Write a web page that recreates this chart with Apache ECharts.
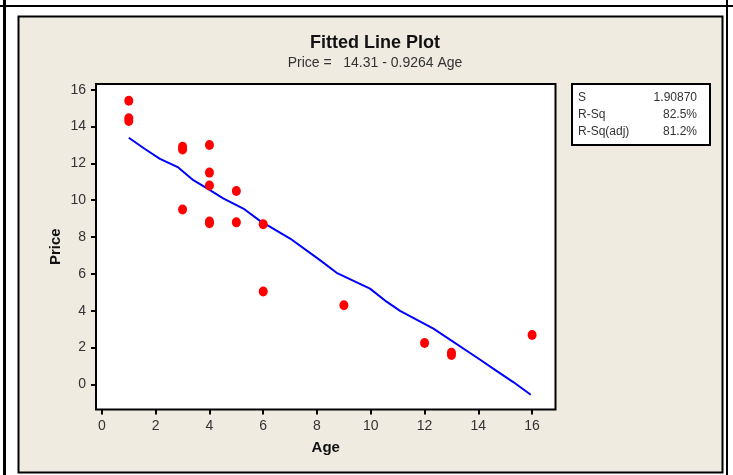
<!DOCTYPE html>
<html>
<head>
<meta charset="utf-8">
<script src="https://cdn.jsdelivr.net/npm/echarts@6/dist/echarts.min.js"></script>
<style>
html,body{margin:0;padding:0;background:#ffffff;}
#chart{width:733px;height:475px;}
</style>
</head>
<body>
<div id="chart"></div>
<script>
// Observed data (Age vs Price)
var ages   = [1, 1, 1, 3, 3, 3, 4, 4, 4, 4, 4, 5, 5, 6, 6, 9, 12, 13, 13, 16];
var prices = [15.4, 14.45, 14.3, 12.9, 12.75, 9.5, 13.0, 11.5, 10.8, 8.85, 8.75, 10.5, 8.8, 8.7, 5.05, 4.3, 2.25, 1.72, 1.6, 2.68];

// Fitted line as drawn
var fitAges   = [1.0, 1.6, 2.16, 2.84, 3.4, 4.02, 4.51, 5.26, 5.88, 7.0, 8.11, 8.73, 9.97, 10.6, 11.09, 12.33, 14.07, 14.69, 15.3, 15.95];
var fitPrices = [13.39, 12.78, 12.25, 11.78, 11.09, 10.55, 10.1, 9.55, 8.88, 7.92, 6.75, 6.06, 5.2, 4.48, 3.99, 3.03, 1.34, 0.72, 0.13, -0.56];

// Tick labels
var xTicks = [0, 2, 4, 6, 8, 10, 12, 14, 16];
var yTicks = [0, 2, 4, 6, 8, 10, 12, 14, 16];

// Summary statistics
var statNames  = ['S', 'R-Sq', 'R-Sq(adj)'];
var statValues = ['1.90870', '82.5%', '81.2%'];

var titleText = 'Fitted Line Plot';
var subText = 'Price =   14.31 - 0.9264 Age';

var scatterData = ages.map(function (a, i) { return [a, prices[i]]; });
var lineData = fitAges.map(function (a, i) { return [a, fitPrices[i]]; });

var FONT = '"Liberation Sans", Arial, sans-serif';
var chart = echarts.init(document.getElementById('chart'), null, {renderer: 'canvas'});

var graphics = [
  {type: 'rect', z: -100, shape: {x: 0, y: 5, width: 733, height: 2}, style: {fill: '#000'}},
  {type: 'rect', z: -100, shape: {x: 3, y: 0, width: 3, height: 475}, style: {fill: '#000'}},
  {type: 'rect', z: -100, shape: {x: 726, y: 0, width: 2, height: 475}, style: {fill: '#000'}},
  {type: 'rect', z: -100, shape: {x: 18.5, y: 16.5, width: 704, height: 456},
   style: {fill: '#EFEBE1', stroke: '#000', lineWidth: 2}},
  {type: 'rect', z: 10, shape: {x: 572, y: 84, width: 138, height: 61},
   style: {fill: '#fff', stroke: '#000', lineWidth: 2}}
];
statNames.forEach(function (n, i) {
  graphics.push({
    type: 'text', z: 20, x: 578, y: 98 + i * 17,
    style: {text: n, fill: '#333', fontFamily: FONT, fontSize: 12,
            textAlign: 'left', textVerticalAlign: 'middle', verticalAlign: 'middle'}
  });
  graphics.push({
    type: 'text', z: 20, x: 697, y: 98 + i * 17,
    style: {text: statValues[i], fill: '#333', fontFamily: FONT, fontSize: 12,
            textAlign: 'right', textVerticalAlign: 'middle', verticalAlign: 'middle'}
  });
});

chart.setOption({
  backgroundColor: '#ffffff',
  animation: false,
  title: [
    {text: titleText, left: 370, top: 29, textAlign: 'center',
     textStyle: {fontFamily: FONT, fontSize: 18, fontWeight: 'bold', color: '#111'}},
    {text: subText, left: 370, top: 51, textAlign: 'center',
     textStyle: {fontFamily: FONT, fontSize: 14, fontWeight: 'normal', color: '#333'}}
  ],
  graphic: graphics,
  grid: {
    left: 96, top: 84, right: 177.5, bottom: 65.5,
    show: true, backgroundColor: '#fff', borderColor: '#000', borderWidth: 2
  },
  xAxis: {
    type: 'value', min: -0.22, max: 16.87,
    name: 'Age', nameLocation: 'middle', nameGap: 31,
    nameTextStyle: {fontFamily: FONT, fontSize: 15, fontWeight: 'bold', color: '#111'},
    axisLine: {show: false, onZero: false},
    splitLine: {show: false},
    axisTick: {show: true, inside: false, length: 5, customValues: xTicks,
               lineStyle: {color: '#000', width: 2}},
    axisLabel: {customValues: xTicks, margin: 10, fontFamily: FONT, fontSize: 14, color: '#333'}
  },
  yAxis: {
    type: 'value', min: -1.36, max: 16.31,
    name: 'Price', nameLocation: 'middle', nameGap: 33, nameRotate: 90,
    nameMoveOverlap: false,
    nameTextStyle: {fontFamily: FONT, fontSize: 15, fontWeight: 'bold', color: '#111'},
    axisLine: {show: false, onZero: false},
    splitLine: {show: false},
    axisTick: {show: true, inside: false, length: 5, customValues: yTicks,
               lineStyle: {color: '#000', width: 2}},
    axisLabel: {customValues: yTicks, margin: 10, fontFamily: FONT, fontSize: 14, color: '#333'}
  },
  series: [
    {
      type: 'line', data: lineData, showSymbol: false, symbol: 'none',
      lineStyle: {color: '#0000FF', width: 2}, z: 2, silent: true
    },
    {
      type: 'scatter', data: scatterData, symbol: 'circle', symbolSize: [9, 10],
      itemStyle: {color: '#FF0000', opacity: 1}, z: 3
    }
  ]
});
</script>
</body>
</html>
